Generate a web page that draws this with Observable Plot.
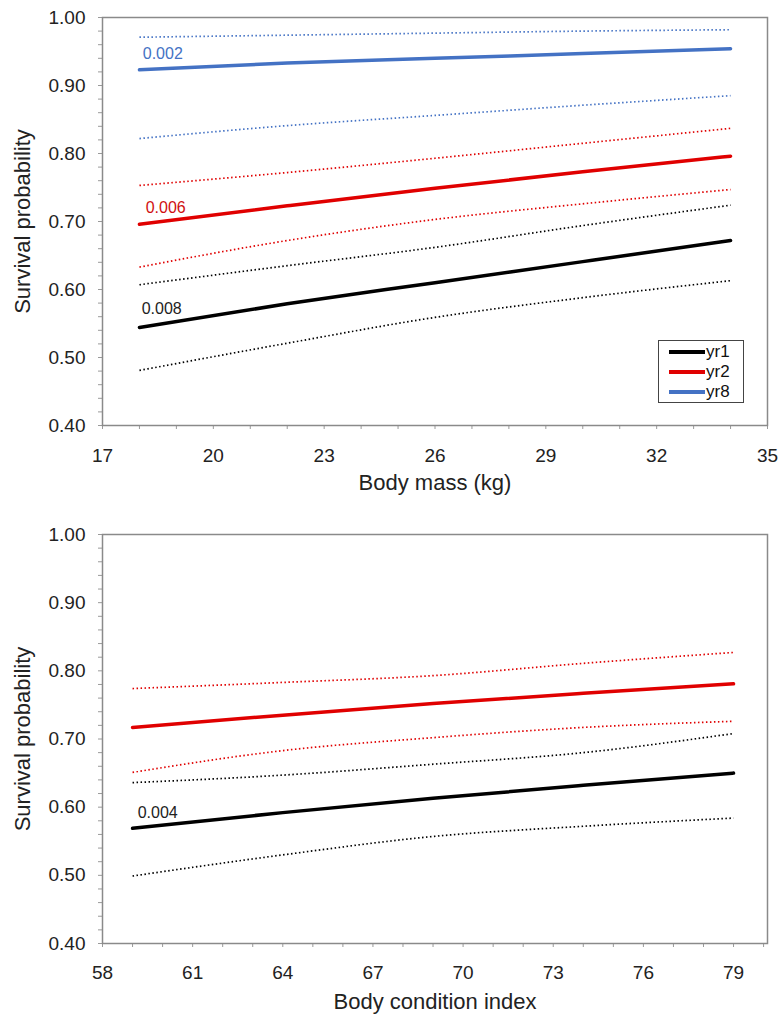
<!DOCTYPE html>
<html>
<head>
<meta charset="utf-8">
<script src="https://cdn.jsdelivr.net/npm/d3@7"></script>
<script src="https://cdn.jsdelivr.net/npm/@observablehq/plot@0.6"></script>
<style>
  html, body { margin: 0; padding: 0; background: #fff; }
  #wrap { position: relative; width: 779px; height: 1016px; font-family: "Liberation Sans", Arial, sans-serif; }
  #wrap svg { display: block; }
  .legend { position: absolute; background: #fff; border: 1px solid #444; box-sizing: border-box;
            font-family: "Liberation Sans", Arial, sans-serif; font-size: 17px; color: #111; }
  .legend .row { display: flex; align-items: center; height: 20px; }
  .legend .sw { width: 36px; height: 3.5px; margin: 0 1px 0 10px; }
</style>
</head>
<body>
<div id="wrap"></div>
<script>
// ---------- Data: top panel (Body mass) ----------
const massX = [18, 22, 26, 30, 34];
const massYr1 = [0.544, 0.579, 0.610, 0.641, 0.672];
const massYr1Lo = [0.481, 0.521, 0.559, 0.588, 0.613];
const massYr1Hi = [0.607, 0.635, 0.662, 0.694, 0.724];
const massYr2 = [0.696, 0.723, 0.749, 0.773, 0.796];
const massYr2Lo = [0.633, 0.672, 0.703, 0.726, 0.747];
const massYr2Hi = [0.753, 0.772, 0.793, 0.815, 0.837];
const massYr8 = [0.923, 0.933, 0.940, 0.947, 0.954];
const massYr8Lo = [0.822, 0.841, 0.856, 0.871, 0.885];
const massYr8Hi = [0.971, 0.974, 0.977, 0.980, 0.982];
const massXTicks = [17, 20, 23, 26, 29, 32, 35];
const massNotes = ["0.008", "0.006", "0.002"];
const massNoteX = [18.06, 18.17, 18.09];
const massNoteY = [0.571, 0.720, 0.947];

// ---------- Data: bottom panel (Body condition index) ----------
const bciX = [59, 64, 69, 74, 79];
const bciYr1 = [0.569, 0.592, 0.613, 0.632, 0.650];
const bciYr1Lo = [0.499, 0.530, 0.557, 0.572, 0.584];
const bciYr1Hi = [0.636, 0.647, 0.663, 0.680, 0.708];
const bciYr2 = [0.717, 0.735, 0.752, 0.767, 0.781];
const bciYr2Lo = [0.651, 0.683, 0.702, 0.717, 0.726];
const bciYr2Hi = [0.774, 0.783, 0.793, 0.811, 0.827];
const bciXTicks = [58, 61, 64, 67, 70, 73, 76, 79];
const bciNotes = ["0.004"];
const bciNoteX = [59.17];
const bciNoteY = [0.592];

// ---------- Shared ----------
const yTicks = [0.4, 0.5, 0.6, 0.7, 0.8, 0.9, 1.0];
const seriesNames = ["yr1", "yr2", "yr8"];
const seriesColors = ["#000000", "#e00000", "#4472c4"];
const noteColors = ["#222222", "#d01010", "#4472c4"];

function rowsFor(xs, name, kind, ys) {
  const color = seriesColors[seriesNames.indexOf(name)];
  return xs.map((x, i) => ({x, y: ys[i], key: name + kind, kind, color}));
}

const massRows = [
  ...rowsFor(massX, "yr1", "est", massYr1), ...rowsFor(massX, "yr1", "lo", massYr1Lo), ...rowsFor(massX, "yr1", "hi", massYr1Hi),
  ...rowsFor(massX, "yr2", "est", massYr2), ...rowsFor(massX, "yr2", "lo", massYr2Lo), ...rowsFor(massX, "yr2", "hi", massYr2Hi),
  ...rowsFor(massX, "yr8", "est", massYr8), ...rowsFor(massX, "yr8", "lo", massYr8Lo), ...rowsFor(massX, "yr8", "hi", massYr8Hi)
];
const bciRows = [
  ...rowsFor(bciX, "yr1", "est", bciYr1), ...rowsFor(bciX, "yr1", "lo", bciYr1Lo), ...rowsFor(bciX, "yr1", "hi", bciYr1Hi),
  ...rowsFor(bciX, "yr2", "est", bciYr2), ...rowsFor(bciX, "yr2", "lo", bciYr2Lo), ...rowsFor(bciX, "yr2", "hi", bciYr2Hi)
];
const massNoteRows = massNotes.map((t, i) => ({t, x: massNoteX[i], y: massNoteY[i], c: noteColors[i]}));
const bciNoteRows = bciNotes.map((t, i) => ({t, x: bciNoteX[i], y: bciNoteY[i], c: noteColors[0]}));

const font = "'Liberation Sans', Arial, sans-serif";

function panel({rows, notes, xDomain, xTicks, xMinor, xLabel, height, marginTop, marginBottom, xLabelDy, xTickPad}) {
  return Plot.plot({
    width: 779,
    height,
    marginLeft: 102,
    marginRight: 12,
    marginTop,
    marginBottom,
    style: {fontFamily: font, fontSize: "19px", color: "#222", background: "#fff", overflow: "visible"},
    x: {domain: xDomain, label: null},
    y: {domain: [0.4, 1.0], label: null},
    color: {type: "identity"},
    marks: [
      Plot.axisX({ticks: xMinor, tickSize: 4, tickFormat: () => "", stroke: "#9a9a9a", label: null}),
      Plot.axisX({ticks: xTicks, tickSize: 0, tickPadding: xTickPad, tickFormat: d3.format("d"), label: null, fill: "#222"}),
      Plot.axisY({ticks: d3.range(40, 101, 2).map(d => d / 100), tickSize: 4, tickFormat: () => "", stroke: "#9a9a9a", label: null}),
      Plot.axisY({ticks: yTicks, tickSize: 0, tickPadding: 17, tickFormat: d3.format(".2f"), label: null, fill: "#222"}),
      Plot.frame({stroke: "#8a8a8a", strokeWidth: 1.5}),
      Plot.line(rows.filter(d => d.kind !== "est"), {
        x: "x", y: "y", z: "key", stroke: "color", strokeWidth: 1.7, strokeDasharray: "1.5,2.5",
        strokeLinecap: "butt", curve: "monotone-x"
      }),
      Plot.line(rows.filter(d => d.kind === "est"), {
        x: "x", y: "y", z: "key", stroke: "color", strokeWidth: 3.5, curve: "monotone-x"
      }),
      Plot.text(notes, {x: "x", y: "y", text: "t", fill: "c", textAnchor: "start", fontSize: 16}),
      Plot.text([xLabel], {frameAnchor: "bottom", lineAnchor: "middle", textAnchor: "middle", dy: xLabelDy, fontSize: 22, fill: "#222"}),
      Plot.text(["Survival probability"], {frameAnchor: "left", textAnchor: "middle", lineAnchor: "middle", rotate: -90, dx: -80, fontSize: 22, fill: "#222"})
    ]
  });
}

const wrap = document.getElementById("wrap");
wrap.appendChild(panel({
  rows: massRows, notes: massNoteRows, xDomain: [17, 35], xTicks: massXTicks, xMinor: d3.range(17, 36, 1),
  xLabel: "Body mass (kg)", height: 500, marginTop: 17, marginBottom: 75, xLabelDy: 57, xTickPad: 23
}));
wrap.appendChild(panel({
  rows: bciRows, notes: bciNoteRows, xDomain: [58, 80.13], xTicks: bciXTicks, xMinor: d3.range(58, 81, 1),
  xLabel: "Body condition index", height: 516, marginTop: 34, marginBottom: 73, xLabelDy: 58, xTickPad: 22
}));

// Legend (top panel)
const legend = document.createElement("div");
legend.className = "legend";
legend.style.left = "658px";
legend.style.top = "340px";
legend.style.width = "86px";
legend.style.height = "63px";
legend.style.paddingTop = "1px";
seriesNames.forEach((name, i) => {
  const row = document.createElement("div");
  row.className = "row";
  const sw = document.createElement("div");
  sw.className = "sw";
  sw.style.background = seriesColors[i];
  const label = document.createElement("span");
  label.textContent = name;
  row.appendChild(sw);
  row.appendChild(label);
  legend.appendChild(row);
});
wrap.appendChild(legend);
</script>
</body>
</html>
